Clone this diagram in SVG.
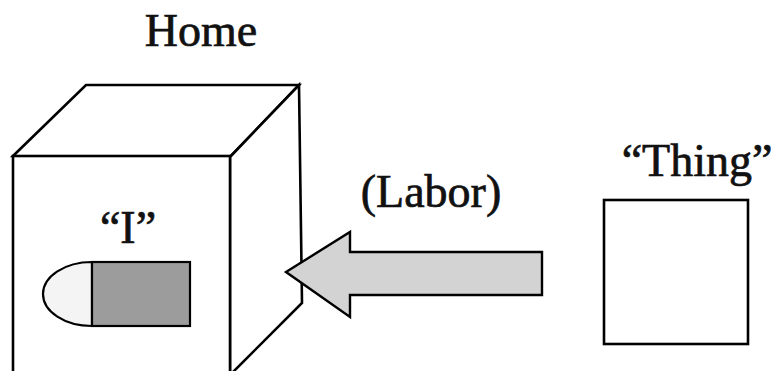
<svg xmlns="http://www.w3.org/2000/svg" width="772" height="371" viewBox="0 0 772 371">
<style>
.t{font-family:"Liberation Serif","Times New Roman",serif;font-size:46px;fill:#111;stroke:#111;stroke-width:0.7;text-anchor:middle}
.s{fill:#fff;stroke:#000;stroke-width:2.6;stroke-linejoin:miter}
</style>
<rect width="772" height="371" fill="#fff"/>
<g id="home">
<text class="t" x="201" y="46">Home</text>
<polygon class="s" points="13,156 86,85 299,85 230,157"/>
<polygon class="s" points="230,157 299,85 302,303 230,375"/>
<rect class="s" x="13" y="156" width="217" height="222"/>
</g>
<g id="i">
<text class="t" x="128" y="243">“I”</text>
<path d="M92,262 L92,326 A49,32 0 0 1 92,262 Z" fill="#f4f4f4" stroke="#000" stroke-width="2.2"/>
<rect x="92" y="262" width="98" height="64" fill="#9c9c9c" stroke="#000" stroke-width="2.2"/>
</g>
<g id="thing">
<text class="t" x="697" y="176">“Thing”</text>
<rect class="s" x="604" y="200" width="144" height="144"/>
</g>
<g id="connectors">
<polygon points="286,272 350,232 350,252 542,252 542,295 350,295 350,317" fill="#d3d3d3" stroke="#000" stroke-width="2.4" stroke-linejoin="miter"/>
<text class="t" x="431" y="207">(Labor)</text>
</g>
</svg>
